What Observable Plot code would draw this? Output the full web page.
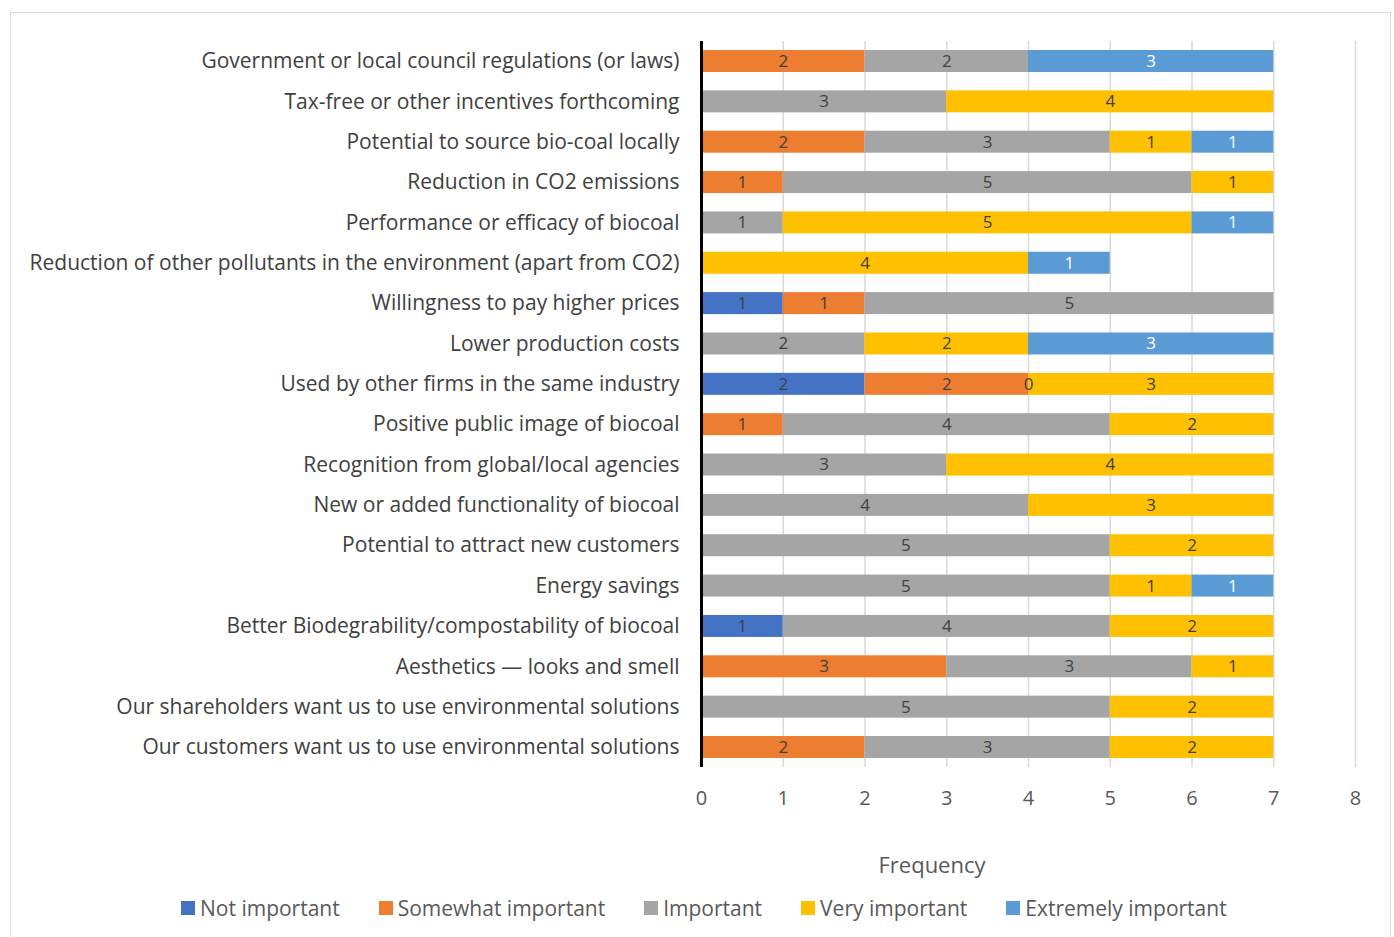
<!DOCTYPE html>
<html>
<head>
<meta charset="utf-8">
<script src="https://cdn.jsdelivr.net/npm/d3@7"></script>
<script src="https://cdn.jsdelivr.net/npm/@observablehq/plot@0.6"></script>
<style>
  html, body { margin: 0; padding: 0; background: #fff; }
  body { width: 1394px; height: 937px; position: relative; overflow: hidden; font-family: "Open Sans", sans-serif; }
  #frame { position: absolute; left: 10px; top: 12px; width: 1381px; height: 930px; border: 1px solid #d9d9d9; box-sizing: border-box; }
  #chart { position: absolute; left: 0; top: 0; }
  #xtitle { position: absolute; left: 0; width: 1864px; top: 849px; text-align: center; font-size: 22px; color: #595959; }
  #legend { position: absolute; top: 894px; left: 181px; display: flex; font-size: 21px; color: #595959; white-space: nowrap; }
  #legend .item { display: flex; align-items: center; }
  #legend .sw { width: 14px; height: 14px; margin-right: 5px; }
</style>
</head>
<body>
<div id="frame"></div>
<div id="chart"></div>
<div id="xtitle">Frequency</div>
<div id="legend"></div>
<script>
const categories = [
  "Government or local council regulations (or laws)",
  "Tax-free or other incentives forthcoming",
  "Potential to source bio-coal locally",
  "Reduction in CO2 emissions",
  "Performance or efficacy of biocoal",
  "Reduction of other pollutants in the environment (apart from CO2)",
  "Willingness to pay higher prices",
  "Lower production costs",
  "Used by other firms in the same industry",
  "Positive public image of biocoal",
  "Recognition from global/local agencies",
  "New or added functionality of biocoal",
  "Potential to attract new customers",
  "Energy savings",
  "Better Biodegrability/compostability of biocoal",
  "Aesthetics \u2014 looks and smell",
  "Our shareholders want us to use environmental solutions",
  "Our customers want us to use environmental solutions"
];
const seriesNames = ["Not important", "Somewhat important", "Important", "Very important", "Extremely important"];
const seriesColors = ["#4472C4", "#ED7D31", "#A5A5A5", "#FFC000", "#5B9BD5"];

const notImportant      = [null, null, null, null, null, null, 1, null, 2, null, null, null, null, null, 1, null, null, null];
const somewhatImportant = [2, null, 2, 1, null, null, 1, null, 2, 1, null, null, null, null, null, 3, null, 2];
const important         = [2, 3, 3, 5, 1, null, 5, 2, 0, 4, 3, 4, 5, 5, 4, 3, 5, 3];
const veryImportant     = [null, 4, 1, 1, 5, 4, null, 2, 3, 2, 4, 3, 2, 1, 2, 1, 2, 2];
const extremelyImportant= [3, null, 1, null, 1, 1, null, 3, null, null, null, null, null, 1, null, null, null, null];
const xTicks = [0, 1, 2, 3, 4, 5, 6, 7, 8];

const seriesValues = [notImportant, somewhatImportant, important, veryImportant, extremelyImportant];
const data = [];
seriesNames.forEach((s, si) => {
  seriesValues[si].forEach((v, ci) => {
    if (v !== null) data.push({cat: categories[ci], series: s, value: v});
  });
});

const height = 830;
const plot = Plot.plot({
  width: 1394,
  height,
  marginLeft: 701,
  marginRight: 39,
  marginTop: 41,
  marginBottom: height - 767,
  style: {fontFamily: "Open Sans, sans-serif", background: "transparent", overflow: "visible"},
  x: {domain: [0, 8], ticks: xTicks, grid: false, label: null},
  y: {domain: categories, range: [50, 758], paddingInner: 0.455, paddingOuter: 0, round: false, label: null},
  color: {domain: seriesNames, range: seriesColors},
  marks: [
    Plot.gridX(xTicks, {stroke: "#d9d9d9", strokeOpacity: 1, strokeWidth: 1.5}),
    Plot.barX(data, Plot.stackX({x: "value", y: "cat", fill: "series", z: "series", order: seriesNames})),
    Plot.text(data, Plot.stackX({x: "value", y: "cat", z: "series", order: seriesNames, text: d => String(d.value),
      fill: d => d.series === "Extremely important" ? "#ffffff" : "#404040", fontSize: 17})),
    Plot.axisX(xTicks, {tickSize: 0, tickPadding: 23, fontSize: 20, fill: "#595959", label: null}),
    Plot.axisY({tickSize: 0, tickPadding: 22, fontSize: 21, fill: "#404040", label: null}),
    Plot.ruleX([0], {stroke: "#000", strokeWidth: 3})
  ]
});
document.getElementById("chart").appendChild(plot);

const legend = document.getElementById("legend");
const legendGap = 39;
seriesNames.forEach((s, i) => {
  const item = document.createElement("div");
  item.className = "item";
  item.style.marginRight = (i < seriesNames.length - 1 ? legendGap : 0) + "px";
  const sw = document.createElement("div");
  sw.className = "sw";
  sw.style.background = seriesColors[i];
  const t = document.createElement("span");
  t.textContent = s;
  item.appendChild(sw);
  item.appendChild(t);
  legend.appendChild(item);
});
</script>
</body>
</html>
